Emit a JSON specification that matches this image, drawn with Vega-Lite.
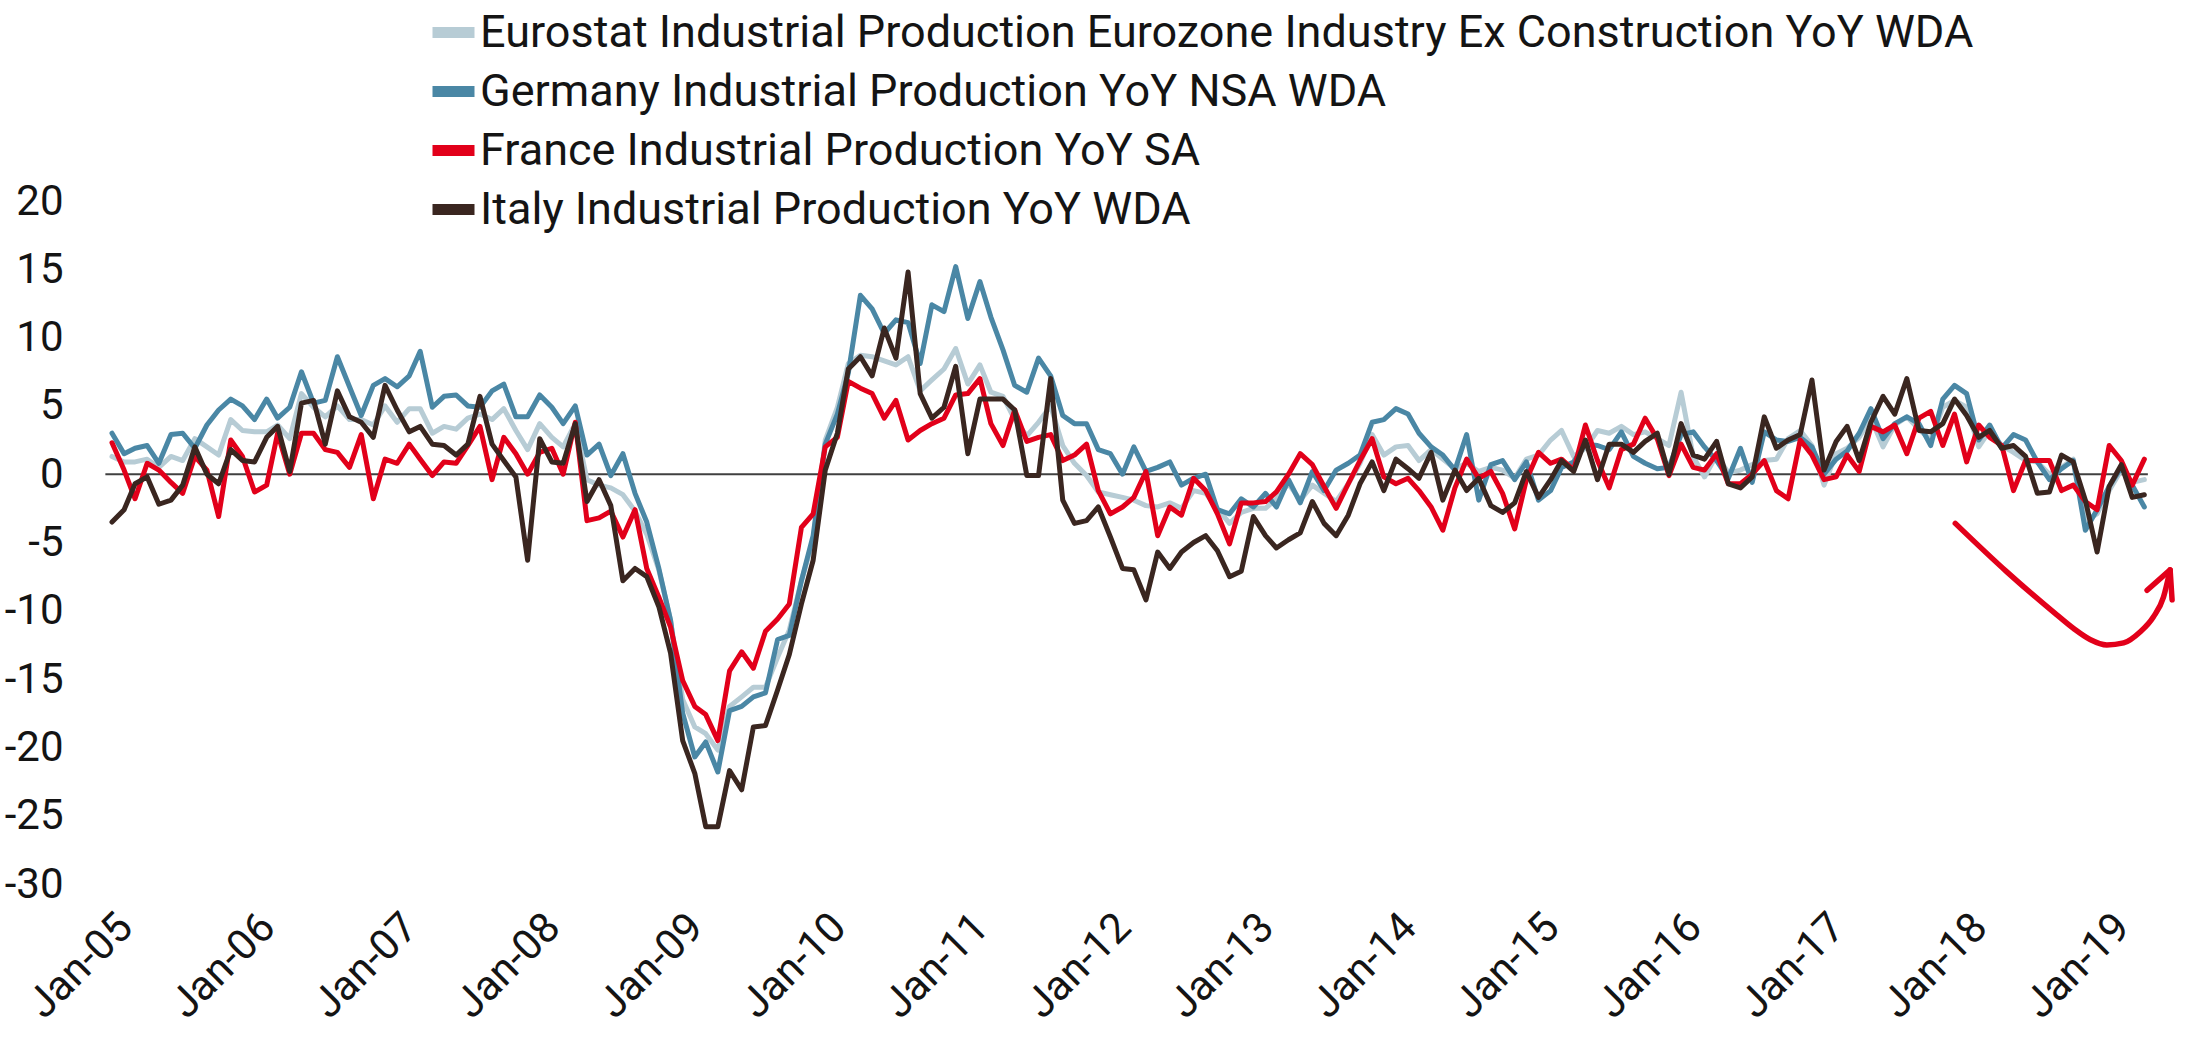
{
  "$schema": "https://vega.github.io/schema/vega-lite/v6.json",
  "autosize": {"type": "none"},
  "padding": {"left": 112, "top": 201, "right": 8, "bottom": 175},
  "width": 2080,
  "height": 683,
  "background": "#ffffff",
  "config": {
    "font": "Roboto",
    "view": {"stroke": null},
    "axis": {"labelFont": "Roboto", "labelColor": "#141414", "labelFontSize": 42, "ticks": false, "domain": false, "grid": false, "title": null},
    "legend": {"labelFont": "Roboto", "labelColor": "#141414"}
  },
  "layer": [
    {
      "data": {"values": [{"s": "2004-12-15", "e": "2019-04-10"}]},
      "mark": {"type": "rule", "color": "#404040", "strokeWidth": 2},
      "encoding": {
        "x": {"field": "s", "type": "temporal"},
        "x2": {"field": "e"},
        "y": {"datum": 0}
      }
    },
    {
      "data": {"values": [
        {"d":"2005-01-01","ez":1.3,"de":3.0,"fr":2.3,"it":-3.5},
        {"d":"2005-02-01","ez":0.9,"de":1.5,"fr":0.3,"it":-2.6},
        {"d":"2005-03-01","ez":0.9,"de":1.9,"fr":-1.8,"it":-0.7},
        {"d":"2005-04-01","ez":1.1,"de":2.1,"fr":0.8,"it":-0.2},
        {"d":"2005-05-01","ez":0.5,"de":0.8,"fr":0.3,"it":-2.2},
        {"d":"2005-06-01","ez":1.3,"de":2.9,"fr":-0.6,"it":-1.9},
        {"d":"2005-07-01","ez":1.0,"de":3.0,"fr":-1.4,"it":-0.8},
        {"d":"2005-08-01","ez":2.6,"de":1.9,"fr":1.3,"it":2.0},
        {"d":"2005-09-01","ez":2.0,"de":3.6,"fr":0.3,"it":0.0},
        {"d":"2005-10-01","ez":1.4,"de":4.7,"fr":-3.1,"it":-0.7},
        {"d":"2005-11-01","ez":4.0,"de":5.5,"fr":2.5,"it":1.8},
        {"d":"2005-12-01","ez":3.2,"de":5.0,"fr":1.3,"it":1.0},
        {"d":"2006-01-01","ez":3.1,"de":4.0,"fr":-1.3,"it":0.9},
        {"d":"2006-02-01","ez":3.1,"de":5.5,"fr":-0.8,"it":2.7},
        {"d":"2006-03-01","ez":3.6,"de":4.1,"fr":3.0,"it":3.5},
        {"d":"2006-04-01","ez":2.6,"de":4.9,"fr":0.0,"it":0.2},
        {"d":"2006-05-01","ez":5.9,"de":7.5,"fr":3.0,"it":5.2},
        {"d":"2006-06-01","ez":4.9,"de":5.2,"fr":3.0,"it":5.4},
        {"d":"2006-07-01","ez":4.2,"de":5.4,"fr":1.8,"it":2.2},
        {"d":"2006-08-01","ez":5.0,"de":8.6,"fr":1.6,"it":6.1},
        {"d":"2006-09-01","ez":4.0,"de":6.4,"fr":0.5,"it":4.2},
        {"d":"2006-10-01","ez":4.0,"de":4.3,"fr":2.9,"it":3.8},
        {"d":"2006-11-01","ez":3.6,"de":6.5,"fr":-1.8,"it":2.7},
        {"d":"2006-12-01","ez":5.0,"de":7.0,"fr":1.1,"it":6.5},
        {"d":"2007-01-01","ez":3.8,"de":6.4,"fr":0.8,"it":4.7},
        {"d":"2007-02-01","ez":4.8,"de":7.2,"fr":2.2,"it":3.1},
        {"d":"2007-03-01","ez":4.8,"de":9.0,"fr":1.1,"it":3.5},
        {"d":"2007-04-01","ez":3.0,"de":4.9,"fr":-0.1,"it":2.2},
        {"d":"2007-05-01","ez":3.5,"de":5.7,"fr":0.9,"it":2.1},
        {"d":"2007-06-01","ez":3.3,"de":5.8,"fr":0.8,"it":1.4},
        {"d":"2007-07-01","ez":4.1,"de":5.0,"fr":2.1,"it":2.2},
        {"d":"2007-08-01","ez":4.4,"de":4.9,"fr":3.5,"it":5.7},
        {"d":"2007-09-01","ez":4.0,"de":6.1,"fr":-0.4,"it":2.2},
        {"d":"2007-10-01","ez":4.8,"de":6.6,"fr":2.7,"it":1.0},
        {"d":"2007-11-01","ez":3.2,"de":4.2,"fr":1.5,"it":-0.2},
        {"d":"2007-12-01","ez":1.8,"de":4.2,"fr":0.0,"it":-6.3},
        {"d":"2008-01-01","ez":3.7,"de":5.8,"fr":1.6,"it":2.6},
        {"d":"2008-02-01","ez":2.7,"de":4.9,"fr":1.9,"it":0.9},
        {"d":"2008-03-01","ez":2.0,"de":3.7,"fr":0.0,"it":0.8},
        {"d":"2008-04-01","ez":3.7,"de":5.0,"fr":3.8,"it":3.7},
        {"d":"2008-05-01","ez":-0.4,"de":1.4,"fr":-3.4,"it":-2.0},
        {"d":"2008-06-01","ez":-0.8,"de":2.2,"fr":-3.2,"it":-0.4},
        {"d":"2008-07-01","ez":-1.0,"de":-0.1,"fr":-2.7,"it":-2.3},
        {"d":"2008-08-01","ez":-1.5,"de":1.5,"fr":-4.6,"it":-7.8},
        {"d":"2008-09-01","ez":-2.7,"de":-1.4,"fr":-2.6,"it":-6.9},
        {"d":"2008-10-01","ez":-4.4,"de":-3.5,"fr":-6.9,"it":-7.5},
        {"d":"2008-11-01","ez":-7.0,"de":-6.9,"fr":-9.0,"it":-9.7},
        {"d":"2008-12-01","ez":-10.7,"de":-10.7,"fr":-11.2,"it":-13.1},
        {"d":"2009-01-01","ez":-16.5,"de":-17.5,"fr":-15.1,"it":-19.5},
        {"d":"2009-02-01","ez":-18.5,"de":-20.7,"fr":-17.0,"it":-21.9},
        {"d":"2009-03-01","ez":-19.0,"de":-19.6,"fr":-17.6,"it":-25.8},
        {"d":"2009-04-01","ez":-20.2,"de":-21.8,"fr":-19.5,"it":-25.8},
        {"d":"2009-05-01","ez":-17.0,"de":-17.3,"fr":-14.4,"it":-21.7},
        {"d":"2009-06-01","ez":-16.3,"de":-17.0,"fr":-13.0,"it":-23.1},
        {"d":"2009-07-01","ez":-15.6,"de":-16.3,"fr":-14.2,"it":-18.5},
        {"d":"2009-08-01","ez":-15.6,"de":-16.0,"fr":-11.5,"it":-18.4},
        {"d":"2009-09-01","ez":-13.4,"de":-12.1,"fr":-10.6,"it":-15.8},
        {"d":"2009-10-01","ez":-11.4,"de":-11.8,"fr":-9.5,"it":-13.2},
        {"d":"2009-11-01","ez":-7.8,"de":-7.8,"fr":-3.9,"it":-9.5},
        {"d":"2009-12-01","ez":-4.8,"de":-4.5,"fr":-2.9,"it":-6.3},
        {"d":"2010-01-01","ez":2.5,"de":2.2,"fr":2.0,"it":0.3},
        {"d":"2010-02-01","ez":4.9,"de":4.4,"fr":2.7,"it":3.0},
        {"d":"2010-03-01","ez":8.1,"de":7.4,"fr":6.8,"it":7.7},
        {"d":"2010-04-01","ez":8.7,"de":13.1,"fr":6.3,"it":8.6},
        {"d":"2010-05-01","ez":8.6,"de":12.1,"fr":5.9,"it":7.2},
        {"d":"2010-06-01","ez":8.3,"de":10.3,"fr":4.1,"it":10.7},
        {"d":"2010-07-01","ez":8.0,"de":11.3,"fr":5.4,"it":8.5},
        {"d":"2010-08-01","ez":8.6,"de":11.1,"fr":2.5,"it":14.8},
        {"d":"2010-09-01","ez":6.1,"de":8.1,"fr":3.2,"it":5.9},
        {"d":"2010-10-01","ez":6.9,"de":12.4,"fr":3.7,"it":4.1},
        {"d":"2010-11-01","ez":7.7,"de":11.9,"fr":4.1,"it":4.9},
        {"d":"2010-12-01","ez":9.2,"de":15.2,"fr":5.8,"it":7.9},
        {"d":"2011-01-01","ez":6.6,"de":11.4,"fr":5.9,"it":1.5},
        {"d":"2011-02-01","ez":8.0,"de":14.1,"fr":7.0,"it":5.5},
        {"d":"2011-03-01","ez":6.0,"de":11.5,"fr":3.7,"it":5.5},
        {"d":"2011-04-01","ez":5.7,"de":9.1,"fr":2.1,"it":5.5},
        {"d":"2011-05-01","ez":4.0,"de":6.5,"fr":4.7,"it":4.7},
        {"d":"2011-06-01","ez":2.8,"de":6.0,"fr":2.4,"it":-0.1},
        {"d":"2011-07-01","ez":3.8,"de":8.5,"fr":2.7,"it":-0.1},
        {"d":"2011-08-01","ez":5.0,"de":7.2,"fr":2.9,"it":7.0},
        {"d":"2011-09-01","ez":2.1,"de":4.3,"fr":1.0,"it":-1.9},
        {"d":"2011-10-01","ez":0.8,"de":3.7,"fr":1.4,"it":-3.6},
        {"d":"2011-11-01","ez":-0.1,"de":3.7,"fr":2.2,"it":-3.4},
        {"d":"2011-12-01","ez":-1.3,"de":1.8,"fr":-1.2,"it":-2.4},
        {"d":"2012-01-01","ez":-1.5,"de":1.5,"fr":-2.9,"it":-4.6},
        {"d":"2012-02-01","ez":-1.7,"de":0.0,"fr":-2.4,"it":-6.9},
        {"d":"2012-03-01","ez":-1.9,"de":2.0,"fr":-1.7,"it":-7.0},
        {"d":"2012-04-01","ez":-2.3,"de":0.2,"fr":0.2,"it":-9.2},
        {"d":"2012-05-01","ez":-2.4,"de":0.5,"fr":-4.5,"it":-5.7},
        {"d":"2012-06-01","ez":-2.1,"de":0.9,"fr":-2.4,"it":-6.9},
        {"d":"2012-07-01","ez":-2.5,"de":-0.8,"fr":-3.0,"it":-5.7},
        {"d":"2012-08-01","ez":-1.2,"de":-0.3,"fr":-0.3,"it":-5.0},
        {"d":"2012-09-01","ez":-1.4,"de":0.0,"fr":-1.2,"it":-4.5},
        {"d":"2012-10-01","ez":-2.5,"de":-2.6,"fr":-2.9,"it":-5.6},
        {"d":"2012-11-01","ez":-3.6,"de":-2.9,"fr":-5.1,"it":-7.5},
        {"d":"2012-12-01","ez":-2.8,"de":-1.8,"fr":-2.1,"it":-7.1},
        {"d":"2013-01-01","ez":-2.5,"de":-2.4,"fr":-2.1,"it":-3.1},
        {"d":"2013-02-01","ez":-2.5,"de":-1.4,"fr":-2.0,"it":-4.5},
        {"d":"2013-03-01","ez":-1.8,"de":-2.4,"fr":-1.3,"it":-5.4},
        {"d":"2013-04-01","ez":-0.7,"de":-0.4,"fr":0.0,"it":-4.8},
        {"d":"2013-05-01","ez":-1.9,"de":-2.1,"fr":1.5,"it":-4.3},
        {"d":"2013-06-01","ez":-0.8,"de":0.2,"fr":0.7,"it":-2.0},
        {"d":"2013-07-01","ez":-1.4,"de":-1.2,"fr":-0.9,"it":-3.6},
        {"d":"2013-08-01","ez":-2.0,"de":0.3,"fr":-2.5,"it":-4.5},
        {"d":"2013-09-01","ez":-0.7,"de":0.8,"fr":-0.7,"it":-3.0},
        {"d":"2013-10-01","ez":0.8,"de":1.4,"fr":1.0,"it":-0.7},
        {"d":"2013-11-01","ez":2.9,"de":3.8,"fr":2.6,"it":0.9},
        {"d":"2013-12-01","ez":1.4,"de":4.0,"fr":-0.2,"it":-1.2},
        {"d":"2014-01-01","ez":2.0,"de":4.8,"fr":-0.7,"it":1.1},
        {"d":"2014-02-01","ez":2.1,"de":4.4,"fr":-0.3,"it":0.4},
        {"d":"2014-03-01","ez":1.0,"de":3.0,"fr":-1.2,"it":-0.3},
        {"d":"2014-04-01","ez":1.8,"de":2.0,"fr":-2.4,"it":1.6},
        {"d":"2014-05-01","ez":1.1,"de":1.4,"fr":-4.1,"it":-1.9},
        {"d":"2014-06-01","ez":0.4,"de":0.3,"fr":-1.0,"it":0.3},
        {"d":"2014-07-01","ez":0.8,"de":2.9,"fr":1.1,"it":-1.2},
        {"d":"2014-08-01","ez":0.2,"de":-1.9,"fr":-0.3,"it":-0.3},
        {"d":"2014-09-01","ez":0.5,"de":0.7,"fr":0.2,"it":-2.3},
        {"d":"2014-10-01","ez":0.3,"de":1.0,"fr":-1.4,"it":-2.8},
        {"d":"2014-11-01","ez":-0.3,"de":-0.4,"fr":-4.0,"it":-2.1},
        {"d":"2014-12-01","ez":1.1,"de":0.9,"fr":-0.4,"it":0.2},
        {"d":"2015-01-01","ez":1.4,"de":-1.9,"fr":1.6,"it":-1.7},
        {"d":"2015-02-01","ez":2.5,"de":-1.2,"fr":0.8,"it":-0.4},
        {"d":"2015-03-01","ez":3.2,"de":0.5,"fr":1.1,"it":1.0},
        {"d":"2015-04-01","ez":1.3,"de":0.9,"fr":0.3,"it":0.2},
        {"d":"2015-05-01","ez":1.9,"de":2.2,"fr":3.6,"it":2.5},
        {"d":"2015-06-01","ez":3.2,"de":2.1,"fr":1.0,"it":-0.4},
        {"d":"2015-07-01","ez":3.0,"de":1.8,"fr":-1.0,"it":2.2},
        {"d":"2015-08-01","ez":3.5,"de":3.1,"fr":1.8,"it":2.2},
        {"d":"2015-09-01","ez":2.9,"de":1.3,"fr":2.2,"it":1.6},
        {"d":"2015-10-01","ez":3.1,"de":0.8,"fr":4.1,"it":2.4},
        {"d":"2015-11-01","ez":2.6,"de":0.4,"fr":2.6,"it":3.0},
        {"d":"2015-12-01","ez":2.1,"de":0.5,"fr":-0.1,"it":0.0},
        {"d":"2016-01-01","ez":6.0,"de":2.9,"fr":2.2,"it":3.7},
        {"d":"2016-02-01","ez":1.3,"de":3.1,"fr":0.5,"it":1.4},
        {"d":"2016-03-01","ez":-0.2,"de":2.0,"fr":0.3,"it":1.1},
        {"d":"2016-04-01","ez":1.4,"de":1.0,"fr":1.5,"it":2.4},
        {"d":"2016-05-01","ez":0.1,"de":-0.3,"fr":-0.7,"it":-0.7},
        {"d":"2016-06-01","ez":0.3,"de":1.9,"fr":-0.7,"it":-1.0},
        {"d":"2016-07-01","ez":0.7,"de":-0.6,"fr":0.0,"it":-0.2},
        {"d":"2016-08-01","ez":1.0,"de":3.1,"fr":1.0,"it":4.2},
        {"d":"2016-09-01","ez":1.1,"de":2.5,"fr":-1.2,"it":1.9},
        {"d":"2016-10-01","ez":2.6,"de":2.4,"fr":-1.8,"it":2.5},
        {"d":"2016-11-01","ez":3.2,"de":2.7,"fr":2.5,"it":2.9},
        {"d":"2016-12-01","ez":2.1,"de":2.0,"fr":1.4,"it":6.9},
        {"d":"2017-01-01","ez":-0.8,"de":0.0,"fr":-0.4,"it":0.3},
        {"d":"2017-02-01","ez":1.5,"de":1.1,"fr":-0.2,"it":2.4},
        {"d":"2017-03-01","ez":1.9,"de":1.7,"fr":1.4,"it":3.5},
        {"d":"2017-04-01","ez":2.7,"de":3.0,"fr":0.2,"it":1.0},
        {"d":"2017-05-01","ez":4.1,"de":4.8,"fr":3.5,"it":3.8},
        {"d":"2017-06-01","ez":2.0,"de":2.6,"fr":3.1,"it":5.7},
        {"d":"2017-07-01","ez":3.6,"de":3.7,"fr":3.6,"it":4.4},
        {"d":"2017-08-01","ez":4.2,"de":4.2,"fr":1.5,"it":7.0},
        {"d":"2017-09-01","ez":3.3,"de":3.7,"fr":4.1,"it":3.2},
        {"d":"2017-10-01","ez":2.5,"de":2.1,"fr":4.6,"it":3.1},
        {"d":"2017-11-01","ez":4.9,"de":5.5,"fr":2.1,"it":3.7},
        {"d":"2017-12-01","ez":5.4,"de":6.5,"fr":4.4,"it":5.5},
        {"d":"2018-01-01","ez":4.9,"de":5.9,"fr":0.9,"it":4.3},
        {"d":"2018-02-01","ez":2.0,"de":2.5,"fr":3.6,"it":2.7},
        {"d":"2018-03-01","ez":3.2,"de":3.6,"fr":2.7,"it":3.2},
        {"d":"2018-04-01","ez":2.1,"de":1.9,"fr":2.1,"it":1.9},
        {"d":"2018-05-01","ez":1.6,"de":2.9,"fr":-1.2,"it":2.1},
        {"d":"2018-06-01","ez":1.0,"de":2.5,"fr":1.0,"it":1.3},
        {"d":"2018-07-01","ez":0.9,"de":0.9,"fr":1.0,"it":-1.4},
        {"d":"2018-08-01","ez":0.0,"de":-0.4,"fr":1.0,"it":-1.3},
        {"d":"2018-09-01","ez":0.5,"de":0.4,"fr":-1.2,"it":1.4},
        {"d":"2018-10-01","ez":1.1,"de":1.0,"fr":-0.8,"it":0.9},
        {"d":"2018-11-01","ez":-3.4,"de":-4.1,"fr":-2.0,"it":-1.9},
        {"d":"2018-12-01","ez":-2.9,"de":-2.6,"fr":-2.6,"it":-5.7},
        {"d":"2019-01-01","ez":-1.2,"de":-0.9,"fr":2.1,"it":-0.9},
        {"d":"2019-02-01","ez":0.3,"de":0.5,"fr":1.0,"it":0.7},
        {"d":"2019-03-01","ez":-0.6,"de":-0.8,"fr":-0.8,"it":-1.7},
        {"d":"2019-04-01","ez":-0.4,"de":-2.4,"fr":1.1,"it":-1.5}
      ]},
      "transform": [{"fold": ["ez", "de", "fr", "it"], "as": ["series", "value"]}],
      "mark": {"type": "line", "strokeWidth": 5, "strokeJoin": "round", "strokeCap": "round"},
      "encoding": {
        "x": {
          "field": "d", "type": "temporal",
          "scale": {"type": "utc", "domain": [1104537600000, 1564617600000]},
          "axis": {
            "values": [
              {"year": 2005, "month": 1, "date": 1, "utc": true},
              {"year": 2006, "month": 1, "date": 1, "utc": true},
              {"year": 2007, "month": 1, "date": 1, "utc": true},
              {"year": 2008, "month": 1, "date": 1, "utc": true},
              {"year": 2009, "month": 1, "date": 1, "utc": true},
              {"year": 2010, "month": 1, "date": 1, "utc": true},
              {"year": 2011, "month": 1, "date": 1, "utc": true},
              {"year": 2012, "month": 1, "date": 1, "utc": true},
              {"year": 2013, "month": 1, "date": 1, "utc": true},
              {"year": 2014, "month": 1, "date": 1, "utc": true},
              {"year": 2015, "month": 1, "date": 1, "utc": true},
              {"year": 2016, "month": 1, "date": 1, "utc": true},
              {"year": 2017, "month": 1, "date": 1, "utc": true},
              {"year": 2018, "month": 1, "date": 1, "utc": true},
              {"year": 2019, "month": 1, "date": 1, "utc": true}
            ],
            "labelExpr": "utcFormat(datum.value, '%b-%y')",
            "labelAngle": -45, "labelAlign": "right", "labelBaseline": "top",
            "labelPadding": 22, "labelOffset": -1, "labelOverlap": false, "labelFlush": false
          }
        },
        "y": {
          "field": "value", "type": "quantitative",
          "scale": {"domain": [-30, 20], "nice": false, "zero": false},
          "axis": {"values": [-30, -25, -20, -15, -10, -5, 0, 5, 10, 15, 20], "labelPadding": 49, "labelExpr": "toString(datum.value)"}
        },
        "color": {
          "field": "series", "type": "nominal",
          "scale": {"domain": ["ez", "de", "fr", "it"], "range": ["#b7ccd5", "#4a87a5", "#e2001a", "#3a2620"]},
          "legend": {
            "orient": "none", "legendX": 315, "legendY": -195, "title": null, "padding": 0,
            "labelFontSize": 45, "labelLimit": 0, "labelOffset": 0,
            "symbolType": "stroke", "symbolStrokeWidth": 11, "symbolSize": 1764,
            "rowPadding": 9,
            "labelExpr": "datum.label == 'ez' ? 'Eurostat Industrial Production Eurozone Industry Ex Construction YoY WDA' : datum.label == 'de' ? 'Germany Industrial Production YoY NSA WDA' : datum.label == 'fr' ? 'France Industrial Production YoY SA' : 'Italy Industrial Production YoY WDA'"
          }
        }
      }
    },
    {
      "data": {"values": [
        {"t": "2017-12-03", "v": -3.6},
        {"t": "2018-04-14", "v": -7.15},
        {"t": "2018-08-20", "v": -10.3},
        {"t": "2018-10-02", "v": -11.3},
        {"t": "2018-11-13", "v": -12.1},
        {"t": "2018-12-26", "v": -12.5},
        {"t": "2019-02-07", "v": -12.35},
        {"t": "2019-03-21", "v": -11.55},
        {"t": "2019-04-24", "v": -10.45},
        {"t": "2019-05-20", "v": -9.0},
        {"t": "2019-06-06", "v": -7.0}
      ]},
      "mark": {"type": "line", "color": "#e2001a", "strokeWidth": 5.5, "strokeCap": "round", "interpolate": "monotone"},
      "encoding": {
        "x": {"field": "t", "type": "temporal"},
        "y": {"field": "v", "type": "quantitative"}
      }
    },
    {
      "data": {"values": [
        {"t": "2019-04-08", "v": -8.5},
        {"t": "2019-06-06", "v": -7.0},
        {"t": "2019-06-11", "v": -9.2}
      ]},
      "mark": {"type": "line", "color": "#e2001a", "strokeWidth": 5.5, "strokeCap": "round", "strokeJoin": "round"},
      "encoding": {
        "x": {"field": "t", "type": "temporal"},
        "y": {"field": "v", "type": "quantitative"}
      }
    }
  ]
}
